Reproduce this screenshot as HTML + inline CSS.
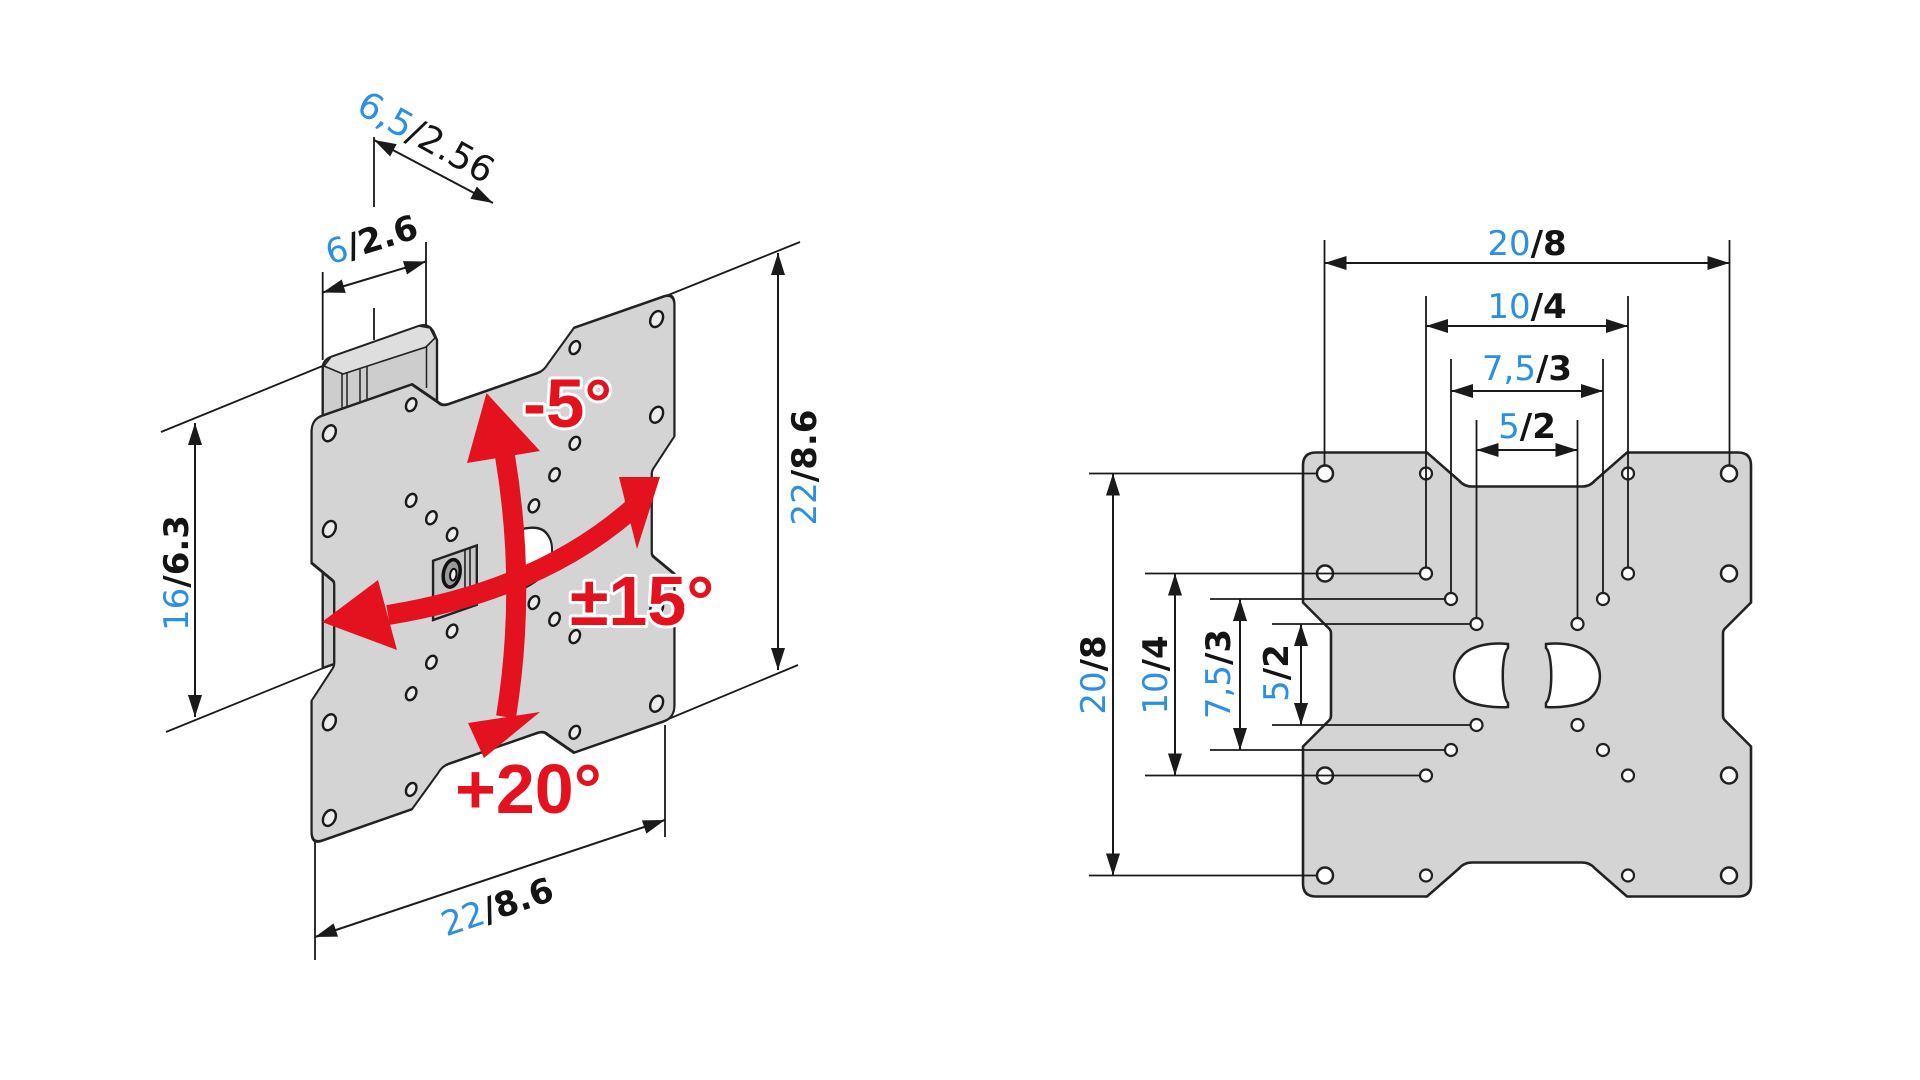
<!DOCTYPE html>
<html>
<head>
<meta charset="utf-8">
<style>
  html, body { margin: 0; padding: 0; background: #fff; }
  svg { display: block; }
  .dim { font-family: "DejaVu Sans", "Liberation Sans", sans-serif; font-size: 34px; }
  .b { fill: #2d8fe2; font-weight: normal; }
  .k { fill: #141414; font-weight: bold; }
  .red { font-family: "Liberation Sans", sans-serif; font-weight: bold; fill: #e3121e;
         stroke: #fff; stroke-width: 6; paint-order: stroke; stroke-linejoin: round; }
</style>
</head>
<body>
<svg width="1920" height="1080" viewBox="0 0 1920 1080" xmlns="http://www.w3.org/2000/svg">
  <rect width="1920" height="1080" fill="#fff"/>
  <defs>
    <marker id="ah" viewBox="0 0 22 14" refX="22" refY="7" markerWidth="22" markerHeight="14"
            markerUnits="userSpaceOnUse" orient="auto-start-reverse">
      <path d="M0,0 L22,7 L0,14 Z" fill="#1a1a1a"/>
    </marker>
    <path id="plate" d="M -211,-222 L -100,-222 L -68,-194 Q -63,-188 -55,-188 L 55,-188 Q 63,-188 68,-194 L 100,-222 L 211,-222 Q 224,-222 224,-209 L 224,-72 L 198,-46 Q 196,-44 196,-41 L 196,41 Q 196,44 198,46 L 224,72 L 224,209 Q 224,222 211,222 L 100,222 L 68,194 Q 63,188 55,188 L -55,188 Q -63,188 -68,194 L -100,222 L -211,222 Q -224,222 -224,209 L -224,72 L -198,46 Q -196,44 -196,41 L -196,-41 Q -196,-44 -198,-46 L -224,-72 L -224,-209 Q -224,-222 -211,-222 Z"/>
    <path id="slotL" d="M -19,-30.5 C -37,-32.5 -57,-28.5 -65,-18.5 C -77,-4.5 -75,15.5 -61,25.5 C -51,31.5 -31,33.5 -19,32.5 L -19,28.5 C -26,22 -26,-20 -19,-26.5 Z"/>
  </defs>

  <!-- ================= RIGHT: FRONT VIEW ================= -->
  <g transform="translate(1527,674.5)">
    <use href="#plate" fill="#d4d4d4" stroke="#222" stroke-width="2.6"/>
    <g fill="#fff" stroke="#222" stroke-width="2.5">
      <circle cx="-202" cy="-201" r="8"/><circle cx="202" cy="-201" r="8"/>
      <circle cx="-202" cy="201" r="8"/><circle cx="202" cy="201" r="8"/>
      <circle cx="-202" cy="-101" r="8"/><circle cx="202" cy="-101" r="8"/>
      <circle cx="-202" cy="101" r="8"/><circle cx="202" cy="101" r="8"/>
    </g>
    <g fill="#fff" stroke="#222" stroke-width="2.2">
      <circle cx="-101" cy="-201" r="6"/><circle cx="101" cy="-201" r="6"/>
      <circle cx="-101" cy="201" r="6"/><circle cx="101" cy="201" r="6"/>
      <circle cx="-101" cy="-101" r="6"/><circle cx="101" cy="-101" r="6"/>
      <circle cx="-101" cy="101" r="6"/><circle cx="101" cy="101" r="6"/>
      <circle cx="-76" cy="-75.5" r="6"/><circle cx="76" cy="-75.5" r="6"/>
      <circle cx="-76" cy="75.5" r="6"/><circle cx="76" cy="75.5" r="6"/>
      <circle cx="-50.5" cy="-50.5" r="6"/><circle cx="50.5" cy="-50.5" r="6"/>
      <circle cx="-50.5" cy="50.5" r="6"/><circle cx="50.5" cy="50.5" r="6"/>
    </g>
    <g fill="#fff" stroke="#222" stroke-width="2.5">
      <use href="#slotL"/>
      <use href="#slotL" transform="scale(-1,1)"/>
    </g>
  </g>

  <g stroke="#1a1a1a" stroke-width="1.8" fill="none">
    <path d="M1324.5 240 V465 M1729.5 240 V465 M1426 296 V567.5 M1628 296 V567.5 M1451 359 V593 M1603 359 V593 M1476.5 420 V618 M1577.5 420 V618"/>
    <path d="M1089 473.5 H1316 M1145 573.5 H1420 M1210 599 H1445 M1272 624 H1470.5 M1272 725 H1470.5 M1210 750 H1445 M1145 775.5 H1420 M1089 875.5 H1316"/>
  </g>
  <g stroke="#1a1a1a" stroke-width="2" marker-start="url(#ah)" marker-end="url(#ah)">
    <line x1="1324.5" y1="263" x2="1729.5" y2="263"/>
    <line x1="1426" y1="326" x2="1628" y2="326"/>
    <line x1="1451" y1="391" x2="1603" y2="391"/>
    <line x1="1476.5" y1="450" x2="1577.5" y2="450"/>
    <line x1="1113" y1="473.5" x2="1113" y2="875.5"/>
    <line x1="1175" y1="573.5" x2="1175" y2="775.5"/>
    <line x1="1240" y1="599" x2="1240" y2="750"/>
    <line x1="1301" y1="624" x2="1301" y2="725"/>
  </g>

  <g class="dim" text-anchor="middle">
    <text x="1527" y="255"><tspan class="b">20</tspan><tspan class="k">/8</tspan></text>
    <text x="1527" y="318"><tspan class="b">10</tspan><tspan class="k">/4</tspan></text>
    <text x="1527" y="380"><tspan class="b">7,5</tspan><tspan class="k">/3</tspan></text>
    <text x="1527" y="438"><tspan class="b">5</tspan><tspan class="k">/2</tspan></text>
    <text transform="translate(1105,675) rotate(-90)"><tspan class="b">20</tspan><tspan class="k">/8</tspan></text>
    <text transform="translate(1167,675) rotate(-90)"><tspan class="b">10</tspan><tspan class="k">/4</tspan></text>
    <text transform="translate(1230,674) rotate(-90)"><tspan class="b">7,5</tspan><tspan class="k">/3</tspan></text>
    <text transform="translate(1288,673) rotate(-90)"><tspan class="b">5</tspan><tspan class="k">/2</tspan></text>
  </g>

  <!-- ================= LEFT: ISOMETRIC VIEW ================= -->
  <!-- extension lines -->
  <g stroke="#1a1a1a" stroke-width="1.8" fill="none">
    <path d="M161 432 L325 365"/>
    <path d="M166 732 L322.6 668.3"/>
    <path d="M661 298 L800 242"/>
    <path d="M666 720 L798 665"/>
    <path d="M315 840 V960 M665 725 V837"/>
    <path d="M322.7 272 V360 M426 242 V326"/>
    <path d="M374 137 V207 M374 308 V340"/>
  </g>
  <g stroke="#1a1a1a" stroke-width="2" marker-start="url(#ah)" marker-end="url(#ah)">
    <line x1="195" y1="423" x2="195" y2="717"/>
    <line x1="778" y1="253" x2="778" y2="670"/>
    <line x1="315" y1="937" x2="665" y2="820"/>
    <line x1="322.7" y1="292.5" x2="426" y2="261.5"/>
    <line x1="374" y1="140" x2="493" y2="203"/>
  </g>

  <!-- bracket behind plate -->
  <path d="M322.7 668 L322.7 368 Q323 360 331 357 L419 326 Q428 323 433 331 L437 340 L437 628 Z" fill="#cdcdcd" stroke="#222" stroke-width="2.4"/>
  <path d="M324 366 L331 357 L419 326 L430 328 L435 338 L426 347 L343 374 Z" fill="#dedede" stroke="#222" stroke-width="1.6"/>
  <g stroke="#222" stroke-width="1.5" fill="none">
    <path d="M342 374 V409 M347 372 V407 M360 368 V403 M367 366 V400 M426.5 347 V388"/>
    <path d="M334 584 V664"/>
  </g>

  <!-- plate (affine from front view) -->
  <g transform="matrix(0.810,-0.2827,0,0.957,493,568.5)">
    <use href="#plate" fill="#d4d4d4" stroke="#222" stroke-width="2.8" vector-effect="non-scaling-stroke"/>
    <g fill="#ececec" stroke="#1a1a1a" stroke-width="2.4">
      <circle cx="-202" cy="-201" r="8" vector-effect="non-scaling-stroke"/><circle cx="202" cy="-201" r="8" vector-effect="non-scaling-stroke"/>
      <circle cx="-202" cy="201" r="8" vector-effect="non-scaling-stroke"/><circle cx="202" cy="201" r="8" vector-effect="non-scaling-stroke"/>
      <circle cx="-202" cy="-101" r="8" vector-effect="non-scaling-stroke"/><circle cx="202" cy="-101" r="8" vector-effect="non-scaling-stroke"/>
      <circle cx="-202" cy="101" r="8" vector-effect="non-scaling-stroke"/><circle cx="202" cy="101" r="8" vector-effect="non-scaling-stroke"/>
      <circle cx="-101" cy="-201" r="6.5" vector-effect="non-scaling-stroke"/><circle cx="101" cy="-201" r="6.5" vector-effect="non-scaling-stroke"/>
      <circle cx="-101" cy="201" r="6.5" vector-effect="non-scaling-stroke"/><circle cx="101" cy="201" r="6.5" vector-effect="non-scaling-stroke"/>
      <circle cx="-101" cy="-101" r="6.5" vector-effect="non-scaling-stroke"/><circle cx="101" cy="-101" r="6.5" vector-effect="non-scaling-stroke"/>
      <circle cx="-101" cy="101" r="6.5" vector-effect="non-scaling-stroke"/><circle cx="101" cy="101" r="6.5" vector-effect="non-scaling-stroke"/>
      <circle cx="-76" cy="-75.5" r="6.5" vector-effect="non-scaling-stroke"/><circle cx="76" cy="-75.5" r="6.5" vector-effect="non-scaling-stroke"/>
      <circle cx="-76" cy="75.5" r="6.5" vector-effect="non-scaling-stroke"/><circle cx="76" cy="75.5" r="6.5" vector-effect="non-scaling-stroke"/>
      <circle cx="-50.5" cy="-50.5" r="6.5" vector-effect="non-scaling-stroke"/><circle cx="50.5" cy="-50.5" r="6.5" vector-effect="non-scaling-stroke"/>
      <circle cx="-50.5" cy="50.5" r="6.5" vector-effect="non-scaling-stroke"/><circle cx="50.5" cy="50.5" r="6.5" vector-effect="non-scaling-stroke"/>
    </g>
    <!-- right slot (white) -->
    <use href="#slotL" transform="scale(-1,1)" fill="#fff" stroke="#222" stroke-width="2.4" vector-effect="non-scaling-stroke"/>
    <!-- mechanism in left slot -->
    <rect x="-74" y="-30" width="54" height="62" fill="#c6c6c6" stroke="#222" stroke-width="2.4" vector-effect="non-scaling-stroke"/>
    <path d="M-34.6 -30 V25 M-28.4 -30 V25" stroke="#222" stroke-width="1.6" fill="none" vector-effect="non-scaling-stroke"/>
    <ellipse cx="-51" cy="-10" rx="10.5" ry="14" fill="#9a9a9a" stroke="#111" stroke-width="3.5" vector-effect="non-scaling-stroke"/>
    <ellipse cx="-49" cy="-8" rx="4" ry="6" fill="#eee" stroke="#111" stroke-width="2" vector-effect="non-scaling-stroke"/>
  </g>

  <!-- red arrows -->
  <g fill="none" stroke="#e3121e" stroke-width="20">
    <path d="M505 456 Q527 587 506 717"/>
    <path d="M388 615 Q540 590 632 509"/>
  </g>
  <g fill="#e3121e">
    <polygon points="486.5,393 467,463 540,451"/>
    <polygon points="484,758 468,723 540,712"/>
    <polygon points="322,622 378,580 397,650"/>
    <polygon points="619,477 660,477 637,549"/>
  </g>

  <!-- red labels -->
  <text class="red" x="523" y="427" font-size="69">-5°</text>
  <text class="red" x="570" y="625" font-size="70">±15°</text>
  <text class="red" x="455" y="813" font-size="70">+20°</text>

  <!-- left dimension texts -->
  <g class="dim" text-anchor="middle">
    <text transform="translate(188,573) rotate(-90)"><tspan class="b">16</tspan><tspan class="k">/6.3</tspan></text>
    <text transform="translate(816,467.5) rotate(-90)"><tspan class="b">22</tspan><tspan class="k">/8.6</tspan></text>
    <text transform="translate(501,918) rotate(-18.6)"><tspan class="b">22</tspan><tspan class="k">/8.6</tspan></text>
    <text transform="translate(375,251) rotate(-17)"><tspan class="b">6</tspan><tspan class="k">/2.6</tspan></text>
    <text transform="translate(420,148) rotate(29)" font-size="36"><tspan class="b">6,5</tspan><tspan fill="#141414">/2.56</tspan></text>
  </g>
</svg>
</body>
</html>
